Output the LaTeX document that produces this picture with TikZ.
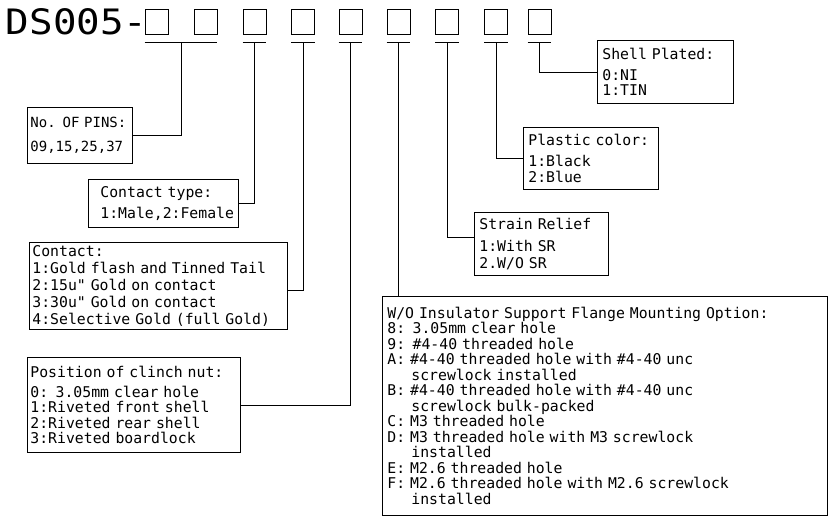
\documentclass[tikz,border=0pt]{standalone}
\usepackage{fontspec}
\setmonofont{DejaVu Sans Mono}
\usepackage{tikz}
\usetikzlibrary{calc}

\newcommand{\specsize}[1]{\fontsize{14.8}{#1}\selectfont}

\begin{document}
\begin{tikzpicture}[
        x=1pt, y=-1pt,
        line width=0.8pt,
        every node/.style={font=\ttfamily},
        slot/.style={rectangle, draw=black, minimum width=23pt, minimum height=25pt, inner sep=0pt},
        spec/.style={rectangle, draw=black, anchor=north west, align=left, inner xsep=5pt, inner ysep=0pt},
        link/.style={draw=black}
        ]

        \useasboundingbox (0,0) rectangle (831,517);

        % Part number with its nine code slots
        \foreach \i/\x in {1/156.5, 2/205.5, 3/254.5, 4/303, 5/350.5, 6/398.5, 7/447, 8/496, 9/539.5} {
            \node[slot] (b\i) at (\x, 21.5) {};
        }
        \node[anchor=base east, inner sep=0pt, font=\ttfamily\fontsize{35}{35}\selectfont] (title) at (148, 34) {\scalebox{1.12}[1]{DS005-}};

        % Underlines below the slots (first two slots share one)
        \draw ([yshift=-8pt]b1.south west) -- ([yshift=-8pt]b2.south east);
        \foreach \i in {3,...,9}
            \draw ([yshift=-8pt]b\i.south west) -- ([yshift=-8pt]b\i.south east);
        \coordinate (t1) at ($(b1.south)!0.5!(b2.south)+(0,8)$);
        \foreach \i in {3,...,9}
            \coordinate (t\i) at ([yshift=-8pt]b\i.south);

        % Option boxes
        \node[spec, inner xsep=3pt, text width=99pt, minimum height=56pt, font=\ttfamily\fontsize{14}{15}\selectfont] (pins) at (27,107)
            {No. OF PINS:\\[9pt]09,15,25,37};
        \node[spec, inner xsep=12pt, text width=126pt, minimum height=48pt, font=\ttfamily\specsize{15}] (ctype) at (88,179)
            {Contact type:\\[6pt]1:Male,2:Female};
        \node[spec, inner xsep=3pt, text width=252pt, minimum height=87pt, font=\ttfamily\specsize{17}] (contact) at (29,242)
            {Contact:\\1:Gold flash and Tinned Tail\\2:15u" Gold on contact\\3:30u" Gold on contact\\4:Selective Gold (full Gold)};
        \node[spec, inner xsep=3pt, text width=207pt, minimum height=95pt, font=\ttfamily\specsize{15.3}] (clinch) at (27,357)
            {Position of clinch nut:\\[5pt]0: 3.05mm clear hole\\1:Riveted front shell\\2:Riveted rear shell\\3:Riveted boardlock};
        \node[spec, text width=435pt, minimum height=219pt, font=\ttfamily\specsize{15.5}] (mount) at (382,296)
            {W/O Insulator Support Flange Mounting Option:\\
             8: 3.05mm clear hole\\
             9: \#4-40 threaded hole\\
             A: \#4-40 threaded hole with \#4-40 unc\\
             \hspace*{24pt}screwlock installed\\
             B: \#4-40 threaded hole with \#4-40 unc\\
             \hspace*{24pt}screwlock bulk-packed\\
             C: M3 threaded hole\\
             D: M3 threaded hole with M3 screwlock\\
             \hspace*{24pt}installed\\
             E: M2.6 threaded hole\\
             F: M2.6 threaded hole with M2.6 screwlock\\
             \hspace*{24pt}installed};
        \node[spec, text width=124pt, minimum height=63pt, font=\ttfamily\specsize{17}] (strain) at (474,212)
            {Strain Relief\\[5pt]1:With SR\\2.W/O SR};
        \node[spec, text width=125pt, minimum height=62pt, font=\ttfamily\specsize{16}] (plastic) at (523,127)
            {Plastic color:\\[5pt]1:Black\\2:Blue};
        \node[spec, text width=126pt, minimum height=63pt, font=\ttfamily\specsize{15}] (shell) at (597,40)
            {Shell Plated:\\[6pt]0:NI\\1:TIN};

        % Leader lines from the slots to their boxes
        \draw[link] (t1) |- (pins.east);
        \draw[link] (t3) |- (ctype.east);
        \draw[link] (t4) |- ([yshift=-4.5pt]contact.east);
        \draw[link] (t5) |- (clinch.east);
        \draw[link] (t6) -- (t6 |- mount.north);
        \draw[link] (t7) |- ([yshift=6.5pt]strain.west);
        \draw[link] (t8) |- (plastic.west);
        \draw[link] (t9) |- (shell.west);

    \end{tikzpicture}
\end{document}
